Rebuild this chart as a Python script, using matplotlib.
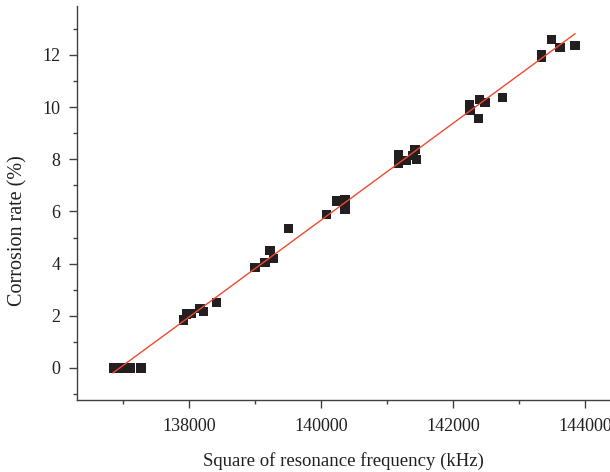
import matplotlib
matplotlib.use("Agg")
import matplotlib.pyplot as plt
from matplotlib.ticker import MultipleLocator


# Measured points: square of resonance frequency (kHz) vs corrosion rate (%)
freq_sq = [
    136864, 136985, 137106, 137273,
    137914, 137965, 138040, 138167, 138217, 138419,
    139000, 139151, 139227, 139277, 139504,
    140086, 140237, 140363, 140363,
    141171, 141171, 141298, 141394, 141424, 141449,
    142246, 142257, 142383, 142398, 142484, 142753,
    143343, 143343, 143494, 143621, 143848,
]
corrosion = [
    0.0, 0.0, 0.0, 0.0,
    1.84, 2.07, 2.08, 2.29, 2.16, 2.50,
    3.85, 4.05, 4.50, 4.21, 5.36,
    5.87, 6.40, 6.44, 6.08,
    8.17, 7.85, 7.95, 8.13, 8.36, 7.98,
    10.08, 9.87, 9.57, 10.28, 10.17, 10.36,
    12.00, 11.90, 12.60, 12.28, 12.36,
]

# Linear fit line end points
fit_x = [136848, 143848]
fit_y = [-0.19, 12.81]

plt.rcParams["font.family"] = ["Liberation Serif", "DejaVu Serif"]

fig = plt.figure(figsize=(6.1, 4.72), dpi=100)
ax = fig.add_axes([0.1262, 0.1525, 0.8738, 0.835])

ax.plot(fit_x, fit_y, color="#ee4a2e", lw=1.0, zorder=3)
ax.scatter(freq_sq, corrosion, marker="s", s=44, color="#231f20",
           edgecolors="none", zorder=2)

ax.set_xlim(136303, 144379)
ax.set_ylim(-1.23, 13.88)

ax.xaxis.set_major_locator(MultipleLocator(2000))
ax.xaxis.set_minor_locator(MultipleLocator(1000))
ax.yaxis.set_major_locator(MultipleLocator(2))
ax.yaxis.set_minor_locator(MultipleLocator(1))

for side in ("top", "right"):
    ax.spines[side].set_visible(False)
for side in ("left", "bottom"):
    ax.spines[side].set_color("#404040")
    ax.spines[side].set_linewidth(1.0)

ax.tick_params(which="major", direction="out", length=6, width=1,
               color="#404040", labelsize=13, labelcolor="#231f20")
ax.tick_params(axis="y", which="major", pad=6)
ax.tick_params(axis="x", which="major", pad=7)
ax.tick_params(which="minor", direction="out", length=3, width=1,
               color="#404040")

ax.set_xlabel("Square of resonance frequency (kHz)", fontsize=13.5,
              color="#231f20", labelpad=12)
ax.set_ylabel("Corrosion rate (%)", fontsize=14.5, color="#231f20")
ax.yaxis.set_label_coords(-0.092, 0.43)

fig.savefig("out.png", dpi=100)
